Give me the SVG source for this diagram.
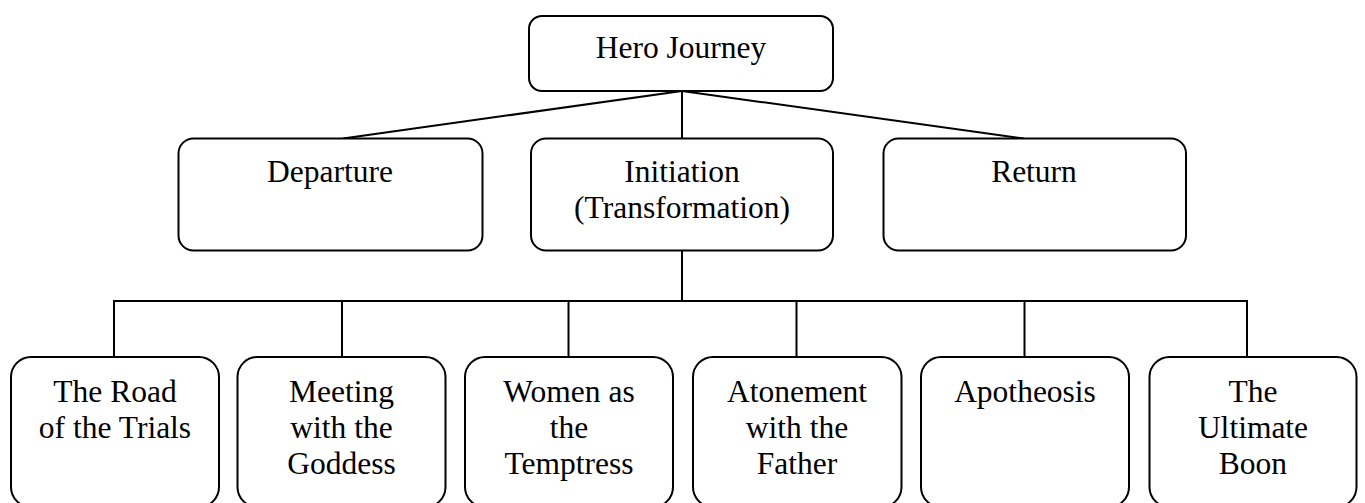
<svg xmlns="http://www.w3.org/2000/svg" width="1365" height="503" viewBox="0 0 1365 503">
<style>
.box{fill:#fff;stroke:#000;stroke-width:2}
.lbl{font-family:"Liberation Serif","Times New Roman",serif;font-size:31.5px;fill:#000;text-anchor:middle}
.con{stroke:#000;stroke-width:2;fill:none}
</style>
<rect width="1365" height="503" fill="#fff"/>
<g id="connectors">
<line class="con" x1="682" y1="91" x2="343" y2="138.5"/>
<line class="con" x1="682" y1="91" x2="682" y2="138.5"/>
<line class="con" x1="682" y1="91" x2="1024" y2="138.5"/>
<line class="con" x1="682" y1="251" x2="682" y2="301"/>
<line class="con" x1="113" y1="301" x2="1248" y2="301"/>
<line class="con" x1="114" y1="301" x2="114" y2="357"/>
<line class="con" x1="342" y1="301" x2="342" y2="357"/>
<line class="con" x1="568.5" y1="301" x2="568.5" y2="357"/>
<line class="con" x1="796.5" y1="301" x2="796.5" y2="357"/>
<line class="con" x1="1024.5" y1="301" x2="1024.5" y2="357"/>
<line class="con" x1="1247" y1="301" x2="1247" y2="357"/>
</g>
<g id="hero">
<rect class="box" x="529" y="16" width="304" height="75" rx="13"/>
<text class="lbl" x="681" y="58">Hero Journey</text>
</g>
<g id="departure">
<rect class="box" x="178.5" y="138.5" width="304" height="112" rx="15"/>
<text class="lbl" x="330" y="182">Departure</text>
</g>
<g id="initiation">
<rect class="box" x="531" y="138.5" width="302" height="112" rx="15"/>
<text class="lbl" x="682" y="182">Initiation</text>
<text class="lbl" x="682" y="217.5">(Transformation)</text>
</g>
<g id="return">
<rect class="box" x="883.5" y="138.5" width="302.5" height="112" rx="15"/>
<text class="lbl" x="1034" y="182">Return</text>
</g>
<g id="road">
<rect class="box" x="11" y="357" width="208" height="150" rx="20"/>
<text class="lbl" x="115" y="401.5">The Road</text>
<text class="lbl" x="115" y="438">of the Trials</text>
</g>
<g id="goddess">
<rect class="box" x="237.5" y="357" width="208" height="150" rx="20"/>
<text class="lbl" x="341.5" y="401.5">Meeting</text>
<text class="lbl" x="341.5" y="438">with the</text>
<text class="lbl" x="341.5" y="473.5">Goddess</text>
</g>
<g id="temptress">
<rect class="box" x="465" y="357" width="208" height="150" rx="20"/>
<text class="lbl" x="569" y="401.5">Women as</text>
<text class="lbl" x="569" y="438">the</text>
<text class="lbl" x="569" y="473.5">Temptress</text>
</g>
<g id="atonement">
<rect class="box" x="693" y="357" width="208.5" height="150" rx="20"/>
<text class="lbl" x="797" y="401.5">Atonement</text>
<text class="lbl" x="797" y="438">with the</text>
<text class="lbl" x="797" y="473.5">Father</text>
</g>
<g id="apotheosis">
<rect class="box" x="921" y="357" width="208" height="150" rx="20"/>
<text class="lbl" x="1025" y="401.5">Apotheosis</text>
</g>
<g id="boon">
<rect class="box" x="1149.5" y="357" width="207" height="150" rx="20"/>
<text class="lbl" x="1253" y="401.5">The</text>
<text class="lbl" x="1253" y="438">Ultimate</text>
<text class="lbl" x="1253" y="473.5">Boon</text>
</g>
</svg>
